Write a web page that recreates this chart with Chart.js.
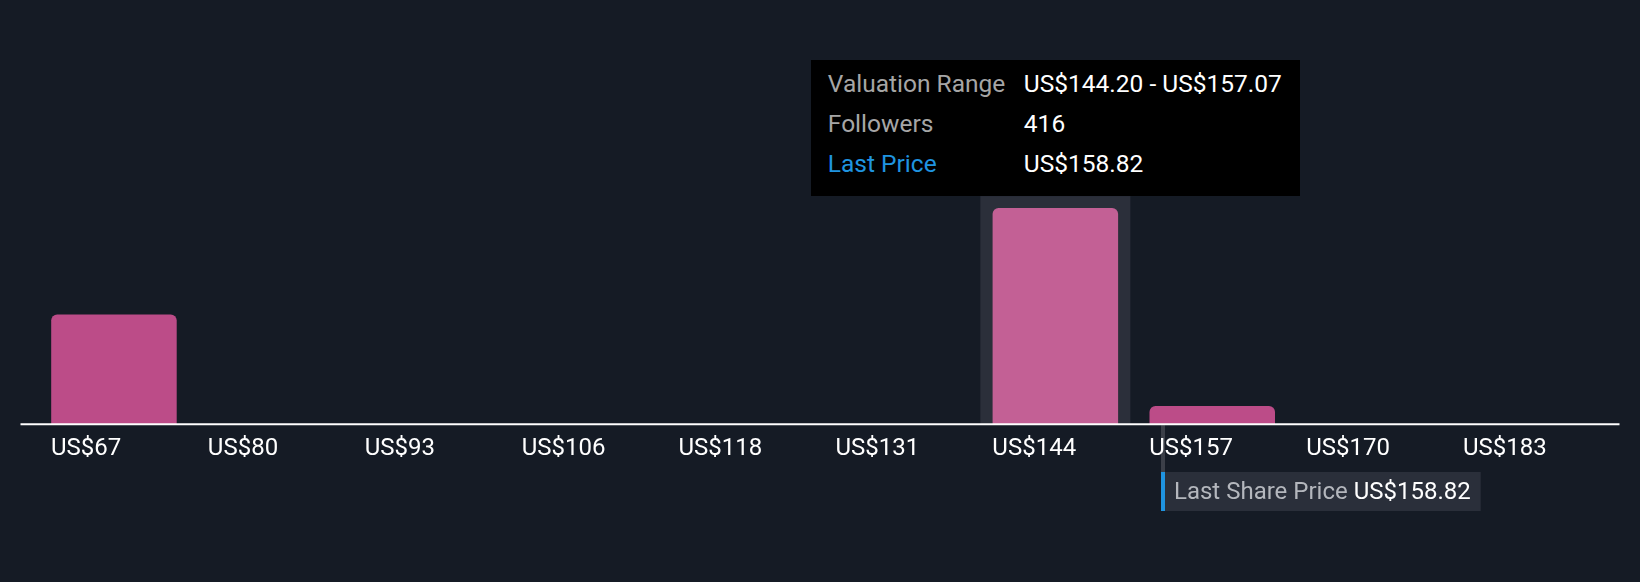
<!DOCTYPE html>
<html>
<head>
<meta charset="utf-8">
<script src="https://cdn.jsdelivr.net/npm/chart.js@4.4.1/dist/chart.umd.min.js"></script>
<style>
  html, body { margin: 0; padding: 0; background: #151b25; }
  #wrap { position: relative; width: 1640px; height: 582px; }
  #tip { position: absolute; display: none; background: #000; color: #fff; font-family: Roboto, sans-serif;
         font-size: 24.5px; padding: 4px 18px 12px 17px; white-space: nowrap; pointer-events: none; }
  #tip table { border-collapse: collapse; }
  #tip td { padding: 0; line-height: 40px; }
  #tip td.k { color: #a6a6a6; width: 196px; }
  #tip td.k.blue { color: #1f94e0; }
</style>
</head>
<body>
<div id="wrap">
  <canvas id="chart" width="1640" height="582"></canvas>
  <div id="tip"></div>
</div>
<script>
// bins of fair value estimates
const binLabels = ['US$67', 'US$80', 'US$93', 'US$106', 'US$118', 'US$131', 'US$144', 'US$157', 'US$170', 'US$183'];
const binEdges = [66.98, 79.85, 92.72, 105.59, 118.46, 131.33, 144.20, 157.07, 169.94, 182.81, 195.68];
const followers = [211, 0, 0, 0, 0, 0, 416, 35, 0, 0];
const lastPrice = 158.82;
const activeBin = 6;

const fmt = v => 'US$' + v.toFixed(2);

// x pixel of the last price, in bin units on the category scale
function pricePixel(chart) {
  const idx = (lastPrice - binEdges[0]) / (binEdges[1] - binEdges[0]) - 0.5;
  return Math.round(chart.scales.x.getPixelForValue(idx)) + 6;
}
const boxTop = 472, boxH = 39;

// grey band behind the hovered bar, marker stem under the tick labels
const underlay = {
  id: 'underlay',
  beforeDraw(chart) {
    const ctx = chart.ctx;
    const y0 = chart.scales.y.getPixelForValue(0);
    ctx.save();
    ctx.fillStyle = '#3b3f48';
    ctx.fillRect(pricePixel(chart), y0 + 1, 4, boxTop - y0 - 1);
    ctx.restore();
  },
  beforeDatasetsDraw(chart) {
    const act = chart.getActiveElements();
    if (!act.length) return;
    const bar = act[0].element;
    const ctx = chart.ctx;
    const w = chart.scales.x.width / binLabels.length * 0.956;
    const top = bar.y - 12;
    ctx.save();
    ctx.fillStyle = '#2b2f3a';
    ctx.fillRect(bar.x - w / 2, top, w, chart.scales.y.getPixelForValue(0) - top);
    ctx.restore();
  }
};

// base line + last share price label
const priceMarker = {
  id: 'priceMarker',
  afterDatasetsDraw(chart) {
    const ctx = chart.ctx;
    const y0 = chart.scales.y.getPixelForValue(0);
    ctx.save();
    ctx.strokeStyle = '#ffffff';
    ctx.lineWidth = 2;
    ctx.beginPath();
    ctx.moveTo(chart.chartArea.left - 15, y0);
    ctx.lineTo(chart.chartArea.right + 15, y0);
    ctx.stroke();

    const px = pricePixel(chart);
    ctx.font = '24px Roboto';
    const t1 = 'Last Share Price ';
    const t2 = fmt(lastPrice);
    const w1 = ctx.measureText(t1).width, w2 = ctx.measureText(t2).width;
    const boxW = 13 + w1 + w2 + 10;
    ctx.fillStyle = '#2a2f3a';
    ctx.fillRect(px, boxTop, boxW, boxH);
    ctx.fillStyle = '#1f94e0';
    ctx.fillRect(px, boxTop, 4, boxH);
    ctx.textBaseline = 'middle';
    ctx.fillStyle = '#b4b7bd';
    ctx.fillText(t1, px + 13, boxTop + boxH / 2 + 1);
    ctx.fillStyle = '#ffffff';
    ctx.fillText(t2, px + 13 + w1, boxTop + boxH / 2 + 1);
    ctx.restore();
  }
};

function externalTip(context) {
  const tt = context.tooltip;
  const el = document.getElementById('tip');
  if (tt.opacity === 0 || !tt.dataPoints || !tt.dataPoints.length) { el.style.display = 'none'; return; }
  const i = tt.dataPoints[0].dataIndex;
  el.innerHTML = '<table>' +
    '<tr><td class="k">Valuation Range</td><td>' + fmt(binEdges[i]) + ' - ' + fmt(binEdges[i + 1]) + '</td></tr>' +
    '<tr><td class="k">Followers</td><td>' + followers[i] + '</td></tr>' +
    '<tr><td class="k blue">Last Price</td><td>' + fmt(lastPrice) + '</td></tr>' +
    '</table>';
  el.style.display = 'block';
  const bar = context.chart.getDatasetMeta(0).data[i];
  el.style.left = (bar.x - el.offsetWidth / 2) + 'px';
  el.style.top = (bar.y - 12 - el.offsetHeight) + 'px';
}

const chart = new Chart(document.getElementById('chart'), {
  type: 'bar',
  data: {
    labels: binLabels,
    datasets: [{
      data: followers,
      backgroundColor: '#bc4c88',
      hoverBackgroundColor: '#c36095',
      borderRadius: { topLeft: 6, topRight: 6 },
      borderSkipped: 'start',
      barPercentage: 0.8,
      categoryPercentage: 1
    }]
  },
  options: {
    responsive: false,
    animation: false,
    events: [],
    layout: { padding: { left: 35.5, right: 35.5, top: 8.6, bottom: 109 } },
    plugins: {
      legend: { display: false },
      tooltip: { enabled: false, external: externalTip }
    },
    scales: {
      x: {
        grid: { display: false, drawTicks: false },
        border: { display: false },
        ticks: {
          color: '#ffffff',
          font: { family: 'Roboto', size: 24 },
          align: 'start',
          labelOffset: -63,
          padding: 10,
          maxRotation: 0,
          autoSkip: false
        }
      },
      y: { display: false, min: 0, max: 800 }
    }
  },
  plugins: [underlay, priceMarker]
});

chart.setActiveElements([{ datasetIndex: 0, index: activeBin }]);
chart.tooltip.setActiveElements([{ datasetIndex: 0, index: activeBin }], { x: 0, y: 0 });
chart.update();
</script>
</body>
</html>
